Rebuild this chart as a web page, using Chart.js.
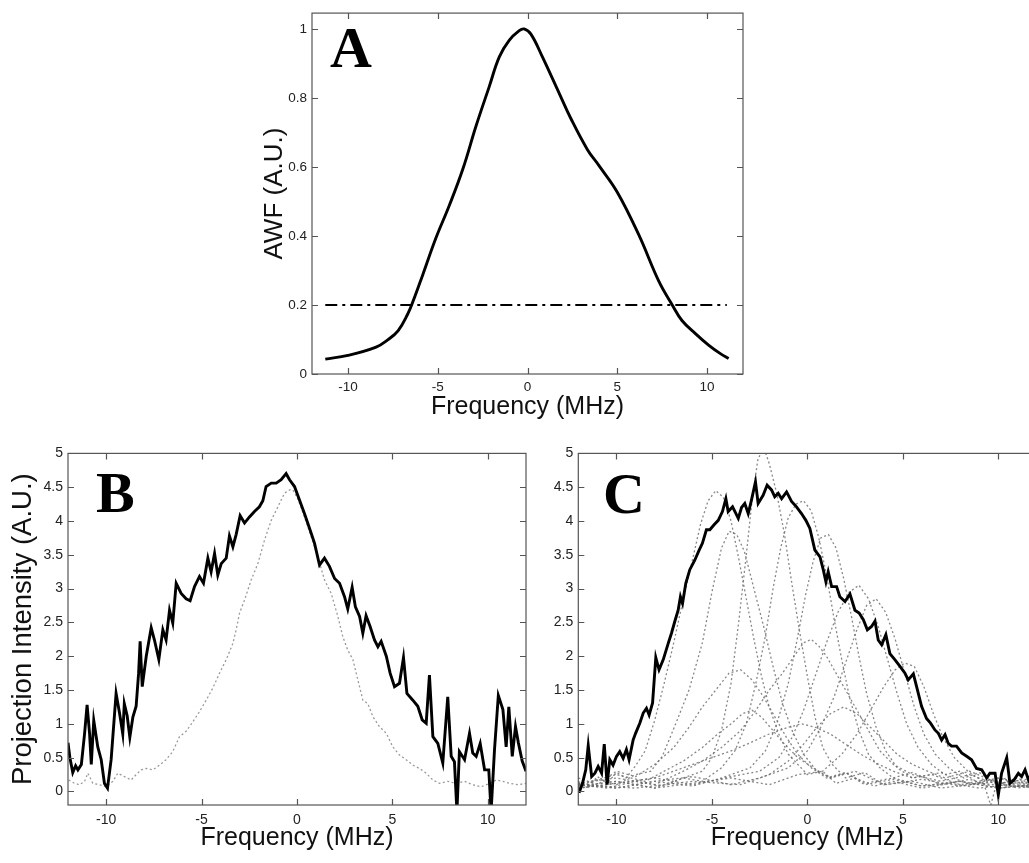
<!DOCTYPE html>
<html>
<head>
<meta charset="utf-8">
<script src="https://cdn.jsdelivr.net/npm/chart.js@4.4.0/dist/chart.umd.min.js"></script>
<style>
html, body { margin: 0; padding: 0; background: #fff; overflow: hidden; width: 1029px; height: 863px; }
canvas { position: absolute; }
</style>
</head>
<body>
<canvas id="chartA" width="520" height="430" style="left:240px;top:0px"></canvas>
<canvas id="chartB" width="530" height="423" style="left:0px;top:440px"></canvas>
<canvas id="chartC" width="510" height="423" style="left:530px;top:440px"></canvas>
<script>
// tick labels
const freqTicks = [-10, -5, 0, 5, 10];
const awfTicks = [0, 0.2, 0.4, 0.6, 0.8, 1];
const intensityTicks = [0, 0.5, 1, 1.5, 2, 2.5, 3, 3.5, 4, 4.5, 5];

// panel A: AWF curve and threshold
const awfFreq = [-11.26, -10, -8.43, -7.78, -7.2, -6.67, -6.4, -5.83, -5.1, -4.35, -3.6, -2.87, -2.13, -1.57, -1.02, -0.46, -0.19, 0.19, 0.83, 1.76, 2.4, 3.33, 3.98, 5.0, 6.2, 7.31, 8.06, 8.6, 9.35, 10.1, 10.74, 11.2];
const awfValue = [0.043, 0.054, 0.078, 0.099, 0.126, 0.174, 0.207, 0.288, 0.394, 0.489, 0.594, 0.718, 0.833, 0.919, 0.967, 0.995, 1.0, 0.985, 0.919, 0.814, 0.742, 0.651, 0.604, 0.527, 0.403, 0.269, 0.2, 0.155, 0.117, 0.083, 0.059, 0.045];
const thresholdFreq = [-11.26, 11.1];
const thresholdValue = [0.2, 0.2];

// panel B: projection (black) and AWF-shaped reference (grey dotted)
const projB = [[-12,0.72],[-11.9,0.5],[-11.75,0.28],[-11.6,0.38],[-11.48,0.32],[-11.3,0.4],[-11.13,0.86],[-11.0,1.28],[-10.87,0.86],[-10.78,0.4],[-10.65,1.05],[-10.44,0.66],[-10.26,0.47],[-10.09,0.12],[-9.93,0.05],[-9.74,0.47],[-9.65,0.81],[-9.48,1.45],[-9.3,1.16],[-9.13,0.85],[-9.05,1.3],[-8.9,1.12],[-8.76,0.8],[-8.6,1.1],[-8.43,1.26],[-8.3,1.75],[-8.22,2.22],[-8.11,1.55],[-7.9,2.0],[-7.64,2.42],[-7.47,2.24],[-7.24,1.95],[-7.03,2.39],[-6.86,2.24],[-6.68,2.68],[-6.51,2.49],[-6.33,3.08],[-6.07,2.93],[-5.81,2.85],[-5.6,2.82],[-5.37,3.03],[-5.11,3.18],[-4.9,3.08],[-4.67,3.45],[-4.5,3.25],[-4.32,3.52],[-4.15,3.2],[-3.97,3.37],[-3.71,3.45],[-3.54,3.78],[-3.36,3.62],[-3.19,3.8],[-2.98,4.08],[-2.75,3.97],[-2.49,4.06],[-2.23,4.14],[-1.97,4.21],[-1.79,4.3],[-1.62,4.51],[-1.35,4.56],[-1.09,4.56],[-0.83,4.61],[-0.57,4.7],[-0.39,4.61],[-0.13,4.51],[0.13,4.31],[0.39,4.11],[0.66,3.89],[0.92,3.67],[1.18,3.35],[1.44,3.45],[1.7,3.33],[1.97,3.15],[2.23,3.08],[2.49,2.88],[2.66,2.7],[2.89,3.02],[3.06,2.73],[3.28,2.59],[3.45,2.34],[3.62,2.6],[3.83,2.44],[4.06,2.24],[4.24,2.14],[4.41,2.22],[4.68,2.0],[4.88,1.75],[5.11,1.55],[5.37,1.6],[5.58,1.98],[5.76,1.45],[6.07,1.35],[6.33,1.26],[6.56,1.06],[6.77,1.01],[6.94,1.72],[7.12,0.81],[7.38,0.71],[7.64,0.42],[7.9,1.4],[8.08,0.52],[8.25,0.44],[8.38,-0.3],[8.51,0.59],[8.78,0.47],[9.04,0.86],[9.21,0.57],[9.39,0.52],[9.6,0.71],[9.83,0.32],[10.05,0.32],[10.17,-0.3],[10.35,0.62],[10.55,1.42],[10.79,1.21],[10.96,0.66],[11.1,1.25],[11.28,0.52],[11.45,0.96],[11.6,0.72],[11.8,0.45],[12,0.3]];
const refB = [[-11.96,0.17],[-11.66,0.12],[-11.4,0.1],[-11.13,0.15],[-10.96,0.27],[-10.7,0.12],[-10.35,0.1],[-10.0,0.07],[-9.65,0.15],[-9.39,0.27],[-9.04,0.22],[-8.69,0.17],[-8.43,0.25],[-8.17,0.32],[-7.9,0.34],[-7.55,0.32],[-7.2,0.39],[-6.86,0.47],[-6.51,0.59],[-6.16,0.81],[-5.81,0.89],[-5.46,1.03],[-5.11,1.18],[-4.76,1.35],[-4.41,1.53],[-4.06,1.75],[-3.71,1.95],[-3.36,2.19],[-3.19,2.39],[-3.01,2.64],[-2.75,2.83],[-2.4,3.13],[-2.05,3.37],[-1.7,3.72],[-1.35,4.01],[-1.0,4.21],[-0.66,4.41],[-0.39,4.46],[-0.22,4.46],[0.04,4.33],[0.39,4.06],[0.74,3.77],[1.09,3.47],[1.44,3.13],[1.79,2.93],[2.14,2.59],[2.4,2.29],[2.66,2.09],[2.93,1.95],[3.19,1.65],[3.45,1.35],[3.71,1.3],[3.97,1.11],[4.32,0.96],[4.68,0.86],[5.02,0.66],[5.37,0.54],[5.72,0.47],[6.07,0.39],[6.42,0.34],[6.77,0.27],[7.12,0.17],[7.47,0.12],[7.9,0.15],[8.34,0.12],[8.78,0.15],[9.21,0.1],[9.65,0.07],[10.09,0.12],[10.44,0.17],[10.79,0.15],[11.14,0.12],[11.58,0.1],[12,0.12]];

// panel C: summed projection (black) and single projections (grey dotted)
const projC = [[-11.96,-0.02],[-11.78,0.12],[-11.61,0.32],[-11.48,0.68],[-11.3,0.22],[-11.13,0.27],[-10.96,0.37],[-10.78,0.27],[-10.64,0.7],[-10.49,0.1],[-10.35,0.47],[-10.18,0.39],[-10.0,0.52],[-9.83,0.59],[-9.65,0.49],[-9.48,0.62],[-9.34,0.47],[-9.13,0.76],[-9.0,0.86],[-8.78,1.01],[-8.6,1.16],[-8.43,1.23],[-8.29,1.13],[-8.11,1.31],[-7.94,1.98],[-7.77,1.8],[-7.55,1.95],[-7.29,2.19],[-7.12,2.34],[-6.95,2.51],[-6.77,2.68],[-6.65,2.88],[-6.54,2.78],[-6.37,3.08],[-6.16,3.28],[-5.9,3.42],[-5.67,3.57],[-5.5,3.67],[-5.29,3.87],[-5.11,3.87],[-4.9,3.94],[-4.67,4.01],[-4.45,4.14],[-4.27,4.33],[-4.15,4.14],[-3.92,4.21],[-3.62,4.04],[-3.45,4.2],[-3.28,4.26],[-3.1,4.11],[-2.93,4.31],[-2.72,4.58],[-2.58,4.26],[-2.32,4.38],[-2.11,4.53],[-1.88,4.46],[-1.71,4.36],[-1.53,4.41],[-1.35,4.33],[-1.09,4.43],[-0.83,4.29],[-0.57,4.21],[-0.31,4.11],[-0.08,4.01],[0.13,3.89],[0.39,3.57],[0.66,3.47],[0.83,3.28],[0.97,3.1],[1.09,3.25],[1.27,3.03],[1.53,3.03],[1.7,2.88],[1.97,2.81],[2.23,2.92],[2.49,2.68],[2.71,2.64],[2.93,2.54],[3.14,2.39],[3.36,2.44],[3.54,2.52],[3.71,2.24],[3.89,2.17],[4.11,2.32],[4.32,2.04],[4.58,1.95],[4.85,1.85],[5.11,1.75],[5.28,1.65],[5.55,1.74],[5.72,1.55],[5.98,1.26],[6.24,1.08],[6.45,1.01],[6.68,0.91],[6.86,0.86],[7.03,0.76],[7.21,0.84],[7.38,0.71],[7.55,0.67],[7.81,0.67],[8.08,0.57],[8.34,0.52],[8.6,0.47],[8.86,0.34],[9.13,0.32],[9.39,0.2],[9.56,0.27],[9.83,0.27],[10.0,-0.05],[10.17,0.27],[10.44,0.5],[10.61,0.12],[10.82,0.17],[11.05,0.27],[11.22,0.22],[11.4,0.32],[11.58,0.17],[11.8,0.3],[12,0.2]];
const gC1 = [[-12,0.15],[-11.5,0.05],[-11,0.22],[-10.5,0.12],[-10,0.28],[-9.5,0.2],[-9,0.38],[-8.5,0.6],[-8,1.05],[-7.5,1.6],[-7,2.2],[-6.5,2.85],[-6,3.45],[-5.6,3.95],[-5.2,4.3],[-4.8,4.45],[-4.4,4.35],[-4,4.0],[-3.6,3.45],[-3.2,2.85],[-2.8,2.25],[-2.4,1.7],[-2,1.25],[-1.5,0.85],[-1,0.55],[-0.5,0.4],[0,0.25],[0.8,0.3],[1.5,0.12],[2.5,0.2],[3.5,0.08],[4.5,0.15],[6,0.05],[7.5,0.12],[9,0.05],[10.5,0.1],[12,0.05]];
const gC2 = [[-12,0.05],[-11,0.18],[-10,0.1],[-9,0.25],[-8.2,0.3],[-7.6,0.52],[-6.9,1.0],[-6.2,1.5],[-5.5,2.2],[-5,2.95],[-4.5,3.6],[-4.1,3.85],[-3.7,3.8],[-3.3,3.55],[-2.8,3.0],[-2.3,2.45],[-1.8,1.85],[-1.3,1.3],[-0.8,0.9],[-0.2,0.55],[0.5,0.3],[1.2,0.2],[2,0.28],[3,0.1],[4.5,0.18],[6,0.08],[8,0.15],[10,0.05],[12,0.1]];
const gC3 = [[-12,0.1],[-10.5,0.05],[-9,0.15],[-7.5,0.08],[-6.5,0.2],[-5.5,0.3],[-5,0.5],[-4.5,0.9],[-4,1.6],[-3.6,2.5],[-3.2,3.5],[-2.9,4.3],[-2.6,4.9],[-2.3,5.1],[-2,4.85],[-1.6,4.4],[-1.2,3.8],[-0.8,3.05],[-0.4,2.35],[0,1.7],[0.4,1.1],[0.8,0.65],[1.3,0.4],[2,0.2],[3,0.28],[4,0.1],[5.5,0.15],[7,0.05],[9,0.12],[12,0.05]];
const gC4 = [[-12,0.08],[-10,0.15],[-8,0.05],[-6.5,0.2],[-5.5,0.15],[-4.5,0.35],[-3.8,0.6],[-3.2,1.0],[-2.7,1.6],[-2.2,2.3],[-1.8,3.0],[-1.4,3.6],[-1,4.05],[-0.6,4.25],[-0.2,4.3],[0.2,4.15],[0.6,3.75],[1,3.2],[1.4,2.55],[1.8,1.95],[2.2,1.4],[2.7,0.9],[3.2,0.55],[3.8,0.35],[4.5,0.2],[5.5,0.28],[7,0.1],[8.5,0.18],[10,0.05],[12,0.12]];
const gC5 = [[-12,0.12],[-10,0.05],[-8,0.15],[-6,0.08],[-4.5,0.2],[-3,0.35],[-2.2,0.6],[-1.6,1.0],[-1,1.6],[-0.5,2.3],[-0.1,2.9],[0.3,3.4],[0.7,3.75],[1.1,3.8],[1.5,3.6],[1.9,3.15],[2.3,2.6],[2.7,2.0],[3.1,1.45],[3.6,0.95],[4.1,0.6],[4.7,0.35],[5.5,0.2],[6.5,0.25],[8,0.1],[9.5,0.18],[11,0.05],[12,0.1]];
const gC6 = [[-12,0.05],[-10,0.12],[-8,0.2],[-6,0.1],[-4,0.22],[-2.5,0.3],[-1.5,0.5],[-0.8,0.8],[-0.2,1.2],[0.4,1.7],[1,2.2],[1.6,2.65],[2.2,2.95],[2.7,3.05],[3.2,2.85],[3.7,2.45],[4.2,1.95],[4.7,1.45],[5.2,1.0],[5.8,0.65],[6.5,0.4],[7.2,0.25],[8,0.3],[9,0.12],[10.5,0.2],[12,0.08]];
const gC7 = [[-12,0.1],[-10,0.05],[-8,0.15],[-6,0.22],[-4,0.1],[-2.5,0.2],[-1,0.35],[0,0.6],[0.7,0.95],[1.4,1.4],[2,1.9],[2.6,2.4],[3.1,2.75],[3.6,2.85],[4.1,2.65],[4.6,2.25],[5.1,1.75],[5.6,1.25],[6.1,0.85],[6.7,0.55],[7.4,0.35],[8.2,0.2],[9,0.28],[10,0.1],[11,0.2],[12,0.08]];
const gC8 = [[-12,0.08],[-10,0.15],[-8,0.05],[-6,0.12],[-4,0.2],[-2,0.1],[-0.5,0.25],[0.8,0.3],[1.8,0.55],[2.6,0.85],[3.3,1.2],[4,1.55],[4.6,1.8],[5.1,1.9],[5.6,1.85],[6.1,1.55],[6.6,1.15],[7.1,0.8],[7.7,0.5],[8.4,0.3],[9.2,0.15],[9.6,-0.2],[10,0.2],[11,0.12],[12,0.05]];
const gC9 = [[-12,0.12],[-10,0.2],[-8,0.1],[-6.5,0.3],[-5.5,0.45],[-4.5,0.65],[-3.5,0.9],[-2.7,1.2],[-2,1.5],[-1.3,1.75],[-0.7,2.0],[-0.2,2.2],[0.2,2.25],[0.6,2.15],[1.0,2.0],[1.5,1.75],[2,1.5],[2.6,1.2],[3.2,0.9],[3.8,0.6],[4.5,0.4],[5.5,0.25],[7,0.15],[8.5,0.25],[10,0.1],[12,0.15]];
const gC10 = [[-12,0.2],[-11,0.1],[-10,0.3],[-9,0.22],[-8,0.4],[-7,0.65],[-6.2,0.95],[-5.5,1.25],[-4.8,1.5],[-4.1,1.75],[-3.5,1.8],[-2.9,1.65],[-2.3,1.4],[-1.7,1.1],[-1.1,0.8],[-0.5,0.55],[0.2,0.35],[1,0.2],[2,0.28],[3,0.12],[4.5,0.2],[6,0.08],[8,0.15],[10,0.05],[12,0.1]];
const gC11 = [[-12,0.1],[-10,0.25],[-8.5,0.15],[-7.5,0.3],[-6.5,0.45],[-5.5,0.65],[-4.7,0.85],[-4,1.0],[-3.4,1.15],[-2.9,1.2],[-2.4,1.1],[-1.8,0.9],[-1.2,0.7],[-0.5,0.5],[0.3,0.35],[1.2,0.2],[2.5,0.3],[4,0.1],[6,0.18],[8,0.08],[10,0.15],[12,0.05]];
const gC12 = [[-12,0.05],[-10,0.12],[-8,0.2],[-7,0.3],[-6,0.4],[-5,0.5],[-4,0.6],[-3,0.72],[-2,0.85],[-1,0.95],[-0.3,1.0],[0.4,0.95],[1.2,0.85],[2,0.7],[2.8,0.55],[3.6,0.42],[4.5,0.3],[5.5,0.2],[7,0.28],[8.5,0.1],[10,0.2],[12,0.08]];
const gC13 = [[-12,0.1],[-9,0.05],[-6,0.15],[-3.5,0.1],[-2,0.25],[-1,0.45],[-0.2,0.7],[0.5,0.95],[1.2,1.15],[1.9,1.25],[2.6,1.15],[3.3,0.95],[4.0,0.75],[4.7,0.55],[5.5,0.4],[6.3,0.3],[7.2,0.2],[8.5,0.3],[10,0.12],[12,0.2]];
const greyC = [gC1, gC2, gC3, gC4, gC5, gC6, gC7, gC8, gC9, gC10, gC11, gC12, gC13];

const SANS = '"Liberation Sans", Arial, sans-serif';

// box around plot area, inward ticks on all four sides, panel letter
const boxTicks = {
    id: 'boxTicks',
    afterDraw(chart, args, opts) {
        const { ctx, chartArea: a, scales: { x, y } } = chart;
        ctx.save();
        ctx.strokeStyle = '#555';
        ctx.lineWidth = 1.2;
        ctx.strokeRect(a.left, a.top, a.right - a.left, a.bottom - a.top);
        ctx.beginPath();
        x.ticks.forEach(t => {
            const px = Math.round(x.getPixelForValue(t.value)) + 0.5;
            ctx.moveTo(px, a.bottom); ctx.lineTo(px, a.bottom - 6);
            ctx.moveTo(px, a.top); ctx.lineTo(px, a.top + 6);
        });
        y.ticks.forEach(t => {
            const py = Math.round(y.getPixelForValue(t.value)) + 0.5;
            ctx.moveTo(a.left, py); ctx.lineTo(a.left + 6, py);
            ctx.moveTo(a.right, py); ctx.lineTo(a.right - 6, py);
        });
        ctx.stroke();
        ctx.fillStyle = '#000';
        ctx.font = 'bold 58px "Liberation Serif", "Times New Roman", serif';
        ctx.textBaseline = 'alphabetic';
        ctx.fillText(opts.letter, opts.lx, opts.ly);
        ctx.restore();
    }
};

function blackLine(points, tension) {
    return {
        data: points.map(p => ({ x: p[0], y: p[1] })),
        borderColor: '#000', borderWidth: 2.9, tension: tension || 0
    };
}

function greyLine(points) {
    return {
        data: points.map(p => ({ x: p[0], y: p[1] })),
        borderColor: 'rgba(105,105,105,0.8)', borderWidth: 1.3, borderDash: [2, 2.5]
    };
}

/**
* Bygger en panel med fast plotyta
*/
function makePanel(id, p) {
    new Chart(document.getElementById(id), {
        type: 'line',
        data: { datasets: p.datasets },
        options: {
            responsive: false,
            animation: false,
            events: [],
            layout: { padding: p.padding },
            elements: { point: { radius: 0 }, line: { fill: false } },
            plugins: {
                legend: { display: false },
                tooltip: { enabled: false },
                boxTicks: p.letter
            },
            scales: {
                x: {
                    type: 'linear', min: -12, max: 12,
                    afterBuildTicks: s => { s.ticks = freqTicks.map(v => ({ value: v })); },
                    afterFit: s => { s.height = p.xAxisH; },
                    grid: { display: false, drawTicks: false },
                    border: { display: false },
                    ticks: { autoSkip: false, maxRotation: 0, padding: p.xTickPad, color: '#222',
                             font: { family: SANS, size: p.tickSize }, callback: v => String(v) },
                    title: { display: true, text: 'Frequency (MHz)', color: '#111',
                             font: { family: SANS, size: 25, lineHeight: 1 }, padding: { top: 0, bottom: p.xTitlePad } }
                },
                y: {
                    type: 'linear', min: p.yMin, max: p.yMax,
                    afterBuildTicks: s => { s.ticks = p.yTicks.map(v => ({ value: v })); },
                    afterFit: s => { s.width = p.yAxisW; },
                    grid: { display: false, drawTicks: false },
                    border: { display: false },
                    ticks: { autoSkip: false, padding: p.yTickPad, color: '#222',
                             font: { family: SANS, size: p.tickSize }, callback: v => String(v) },
                    title: { display: !!p.yTitle, text: p.yTitle || '', color: '#111',
                             font: { family: SANS, size: p.yTitleSize, lineHeight: 1 }, padding: { top: p.yTitlePad, bottom: 0 } }
                }
            }
        },
        plugins: [boxTicks]
    });
}

const awfPoints = awfFreq.map((f, i) => [f, awfValue[i]]);
const thresholdPoints = thresholdFreq.map((f, i) => [f, thresholdValue[i]]);

makePanel('chartA', {
    datasets: [
        blackLine(awfPoints, 0.4),
        Object.assign(blackLine(thresholdPoints), { borderWidth: 2.2, borderDash: [12, 5, 3, 5] })
    ],
    padding: { left: 0, top: 9, right: 17, bottom: 0 },
    xAxisH: 56, yAxisW: 72, yMin: 0, yMax: 1.046, yTicks: awfTicks,
    tickSize: 13.5, xTickPad: 5, yTickPad: 5, xTitlePad: 10.5,
    yTitle: 'AWF (A.U.)', yTitleSize: 26, yTitlePad: 21.5,
    letter: { letter: 'A', lx: 90, ly: 67 }
});

makePanel('chartB', {
    datasets: [blackLine(projB), Object.assign(greyLine(refB), { borderColor: 'rgba(120,120,120,0.75)' })],
    padding: { left: 0, top: 13, right: 4, bottom: 0 },
    xAxisH: 58, yAxisW: 68, yMin: -0.2, yMax: 5, yTicks: intensityTicks,
    tickSize: 14, xTickPad: 7, yTickPad: 5, xTitlePad: 12,
    yTitle: 'Projection Intensity (A.U.)', yTitleSize: 27.5, yTitlePad: 9.5,
    letter: { letter: 'B', lx: 96, ly: 72 }
});

makePanel('chartC', {
    datasets: [blackLine(projC)].concat(greyC.map(greyLine)),
    padding: { left: 0, top: 13, right: 3.5, bottom: 0 },
    xAxisH: 58, yAxisW: 48.3, yMin: -0.2, yMax: 5, yTicks: intensityTicks,
    tickSize: 14, xTickPad: 7, yTickPad: 5, xTitlePad: 12,
    yTitle: '', yTitleSize: 27, yTitlePad: 0,
    letter: { letter: 'C', lx: 73, ly: 73 }
});
</script>
</body>
</html>
